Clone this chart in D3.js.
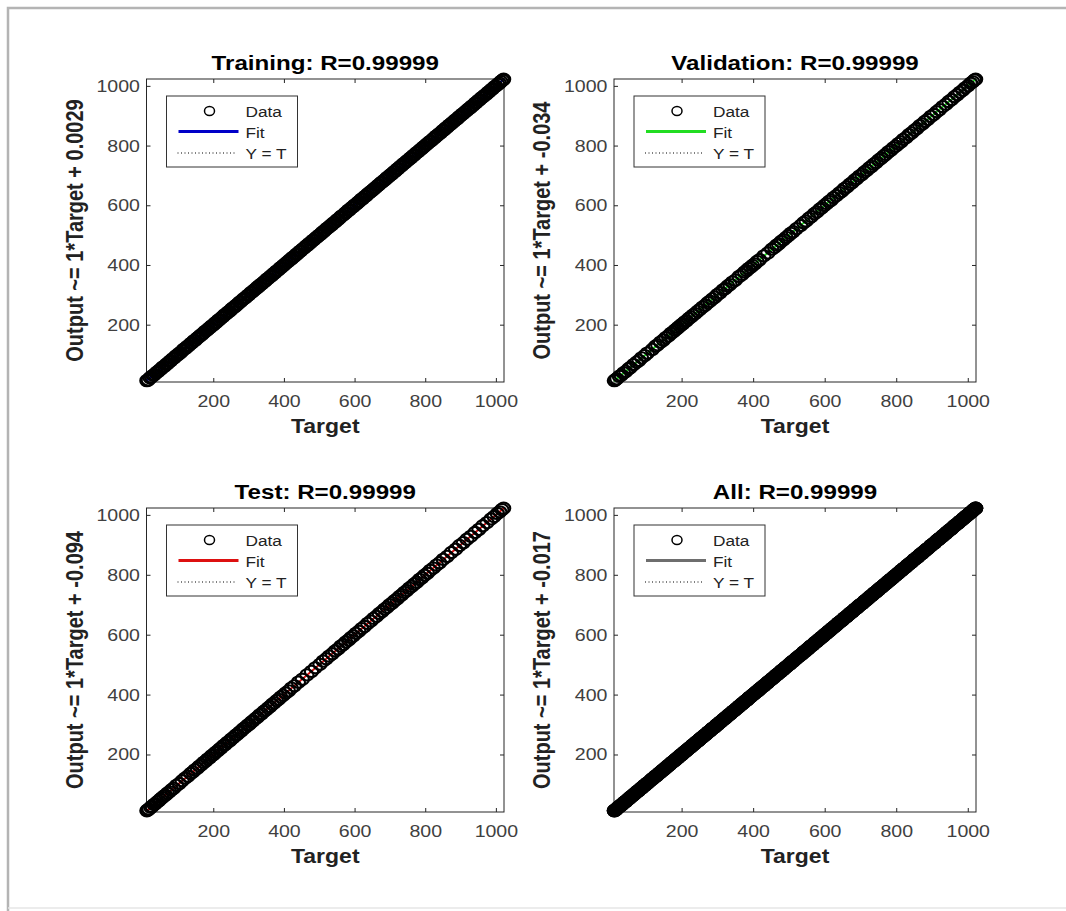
<!DOCTYPE html>
<html>
<head>
<meta charset="utf-8">
<title>Regression plots</title>
<script src="https://d3js.org/d3.v7.min.js"></script>
<style>
    body { margin: 0; background: #fff; }
    svg { display: block; font-family: "Liberation Sans", Arial, sans-serif; }
</style>
</head>
<body>
<svg width="1066" height="911"></svg>
<script>
    // panels, in reading order
    const panelNames = ["Training", "Validation", "Test", "All"];
    const rValues = ["0.99999", "0.99999", "0.99999", "0.99999"];
    const fitSlopes = [1, 1, 1, 1];
    const fitIntercepts = ["0.0029", "-0.034", "-0.094", "-0.017"];

    const xTicks = [200, 400, 600, 800, 1000];
    const yTicks = [200, 400, 600, 800, 1000];
    const xDomain = [11, 1023];
    const yDomain = [8, 1023];

    const trainTarget = [12, 16, 21, 25, 30, 34, 39, 44, 48, 53, 57, 62, 67, 71, 76, 80, 85, 90, 94, 99,
        103, 108, 113, 117, 122, 126, 131, 136, 140, 145, 149, 154, 159, 163, 168, 172, 177, 182, 186, 191,
        195, 200, 205, 209, 214, 218, 223, 228, 232, 237, 241, 246, 251, 255, 260, 264, 269, 274, 278, 283,
        287, 292, 297, 301, 306, 310, 315, 320, 324, 329, 333, 338, 343, 347, 352, 356, 361, 366, 370, 375,
        379, 384, 389, 393, 398, 402, 407, 412, 416, 421, 425, 430, 435, 439, 444, 448, 453, 458, 462, 467,
        471, 476, 481, 485, 490, 494, 499, 504, 508, 513, 517, 522, 527, 531, 536, 540, 545, 550, 554, 559,
        563, 568, 573, 577, 582, 586, 591, 596, 600, 605, 609, 614, 619, 623, 628, 632, 637, 642, 646, 651,
        655, 660, 665, 669, 674, 678, 683, 688, 692, 697, 701, 706, 711, 715, 720, 724, 729, 734, 738, 743,
        747, 752, 757, 761, 766, 770, 775, 780, 784, 789, 793, 798, 803, 807, 812, 816, 821, 826, 830, 835,
        839, 844, 849, 853, 858, 862, 867, 872, 876, 881, 885, 890, 895, 899, 904, 908, 913, 918, 922, 927,
        931, 936, 941, 945, 950, 954, 959, 964, 968, 973, 977, 982, 987, 991, 996, 1000, 1005, 1010, 1014, 1019, 1022];
    const trainOutput = [12.6, 15.1, 22.2, 24.7, 30.4, 32.9, 39.8, 43.5, 48.2, 52.4, 58.1, 61.2, 67.5, 70.3, 76.9, 79.4, 85.6, 89.2, 95.1, 98.6,
        103.7, 107.1, 113.4, 118.2, 121.5, 126.8, 130.3, 136.6, 139.4, 145.9, 148.3, 154.7, 158.6, 163.9, 167.2, 172.5, 177.8, 181.1, 186.4, 190.7,
        195.9, 199.3, 205.6, 208.4, 214.8, 217.2, 223.5, 227.6, 232.9, 236.4, 241.7, 245.2, 251.3, 256.1, 259.5, 264.6, 268.8, 274.9, 277.3, 283.4,
        287.8, 291.1, 297.6, 300.4, 306.9, 309.2, 315.5, 319.7, 324.8, 328.3, 333.9, 337.4, 343.2, 346.5, 352.8, 355.3, 361.6, 365.1, 370.7, 374.2,
        379.5, 383.2, 389.9, 392.6, 398.4, 401.8, 407.7, 411.3, 416.6, 420.4, 425.8, 429.1, 435.5, 438.3, 444.7, 447.6, 453.2, 457.4, 462.9, 466.5,
        471.6, 475.3, 481.8, 484.2, 490.5, 493.7, 499.4, 503.1, 508.8, 512.6, 517.3, 522.9, 526.4, 531.7, 535.2, 540.6, 544.3, 550.8, 553.5, 559.4,
        563.8, 567.2, 573.6, 576.5, 582.9, 585.4, 591.7, 595.1, 600.5, 604.3, 609.6, 613.4, 619.8, 622.3, 628.5, 631.2, 637.9, 641.6, 646.4, 650.2,
        655.7, 659.3, 665.5, 668.4, 674.8, 677.6, 683.3, 687.2, 692.9, 696.5, 701.4, 705.2, 711.8, 714.3, 720.6, 723.5, 729.7, 733.4, 738.8, 742.1,
        747.6, 751.3, 757.9, 760.2, 766.5, 769.4, 775.7, 779.2, 784.6, 788.3, 793.8, 797.4, 803.3, 806.6, 812.7, 815.1, 821.5, 825.4, 830.9, 834.2,
        839.5, 843.3, 849.8, 852.4, 858.6, 861.2, 867.7, 871.5, 876.3, 880.6, 885.9, 889.2, 895.4, 898.7, 904.8, 907.3, 913.6, 917.4, 922.7, 926.2,
        931.5, 935.3, 941.9, 944.4, 950.6, 953.2, 959.8, 963.5, 968.4, 972.1, 977.7, 981.4, 987.6, 990.3, 996.9, 999.5, 1005.4, 1009.2, 1014.6, 1018.8, 1022.3];

    const valTarget = [12, 15, 19, 26, 31, 38, 44, 52, 57, 66, 74, 81, 88, 97, 104, 118, 127, 133, 141, 149,
        156, 163, 170, 176, 181, 186, 190, 195, 199, 204, 209, 214, 220, 226, 231, 238, 244, 251, 258, 266,
        273, 279, 286, 293, 300, 308, 316, 322, 329, 335, 342, 350, 361, 369, 376, 382, 387, 393, 398, 404,
        411, 418, 430, 441, 452, 460, 466, 471, 478, 485, 492, 499, 505, 512, 521, 533, 541, 548, 556, 563,
        571, 578, 586, 592, 599, 606, 612, 618, 625, 633, 641, 648, 655, 662, 670, 677, 684, 690, 697, 704,
        711, 718, 725, 731, 737, 744, 751, 758, 765, 771, 778, 785, 792, 799, 806, 813, 820, 828, 836, 843,
        851, 858, 866, 873, 880, 888, 897, 905, 913, 921, 930, 939, 947, 955, 963, 971, 978, 986, 993, 1001,
        1008, 1014, 1019, 1022];
    const valOutput = [12.3, 15.8, 18.6, 26.9, 30.4, 38.7, 43.5, 52.6, 56.8, 66.4, 74.5, 80.3, 88.9, 96.6, 104.7, 117.2, 127.8, 132.5, 141.6, 148.3,
        156.7, 162.4, 170.9, 175.5, 181.6, 185.3, 190.8, 194.4, 199.7, 203.5, 209.6, 213.2, 220.8, 225.4, 231.9, 237.3, 244.5, 250.6, 258.7, 265.2,
        273.8, 278.5, 286.4, 292.2, 300.7, 307.4, 316.9, 321.3, 329.6, 334.5, 342.7, 349.2, 361.8, 368.4, 376.6, 381.3, 387.9, 392.5, 398.6, 403.4,
        411.7, 417.5, 430.6, 440.2, 452.9, 459.4, 466.5, 470.3, 478.8, 484.6, 492.4, 498.5, 505.9, 511.3, 521.6, 532.4, 541.8, 547.2, 556.7, 562.3,
        571.6, 577.3, 586.8, 591.4, 599.5, 605.6, 612.9, 617.2, 625.7, 632.4, 641.5, 647.3, 655.8, 661.6, 670.4, 676.2, 684.7, 689.5, 697.9, 703.4,
        711.6, 717.2, 725.5, 730.3, 737.8, 743.4, 751.7, 757.5, 765.3, 770.6, 778.9, 784.4, 792.6, 798.2, 806.5, 812.3, 820.8, 827.4, 836.7, 842.5,
        851.4, 857.3, 866.9, 872.2, 880.6, 887.5, 897.8, 904.3, 913.5, 920.4, 930.7, 938.3, 947.6, 954.2, 963.8, 970.5, 978.4, 985.3, 993.6, 1000.4,
        1008.7, 1013.5, 1019.3, 1022.4];

    const testTarget = [12, 14, 18, 23, 27, 32, 36, 41, 46, 50, 55, 60, 65, 70, 76, 82, 88, 96, 104, 112,
        120, 128, 136, 142, 148, 155, 161, 167, 173, 179, 184, 190, 195, 201, 206, 212, 218, 223, 229, 234,
        240, 246, 251, 257, 263, 268, 274, 280, 285, 291, 297, 302, 308, 313, 319, 325, 331, 337, 343, 349,
        355, 361, 367, 373, 379, 385, 391, 398, 405, 413, 421, 430, 441, 452, 465, 478, 489, 502, 511, 520,
        528, 537, 545, 553, 561, 568, 575, 583, 590, 597, 604, 612, 620, 628, 637, 646, 654, 662, 670, 678,
        685, 692, 699, 706, 713, 720, 727, 734, 741, 748, 755, 762, 769, 776, 784, 791, 798, 806, 814, 823,
        832, 841, 851, 862, 874, 886, 897, 908, 918, 929, 941, 952, 963, 975, 986, 995, 1004, 1011, 1017, 1022];
    const testOutput = [12.2, 14.7, 17.5, 23.6, 26.4, 32.8, 35.3, 41.7, 45.4, 50.6, 55.3, 60.8, 64.4, 70.7, 75.5, 82.6, 87.3, 96.9, 103.4, 112.5,
        120.8, 127.3, 136.6, 141.4, 148.9, 154.3, 161.5, 166.6, 173.7, 178.5, 184.6, 189.4, 195.8, 200.3, 206.5, 211.7, 218.6, 222.4, 229.9, 233.5,
        240.7, 245.3, 251.6, 256.4, 263.8, 267.5, 274.4, 279.3, 285.7, 290.6, 297.5, 301.4, 308.8, 312.3, 319.6, 324.5, 331.9, 336.2, 343.7, 348.4,
        355.6, 360.3, 367.8, 372.5, 379.4, 384.2, 391.7, 397.6, 405.5, 412.3, 421.8, 429.4, 441.6, 451.3, 465.7, 477.5, 489.4, 501.2, 511.9, 519.6,
        528.5, 536.3, 545.7, 552.4, 561.8, 567.3, 575.6, 582.5, 590.4, 596.2, 604.7, 611.4, 620.5, 627.3, 637.8, 645.5, 654.6, 661.2, 670.9, 677.4,
        685.6, 691.3, 699.8, 705.4, 713.5, 719.2, 727.7, 733.6, 741.4, 747.3, 755.8, 761.5, 769.6, 775.2, 784.7, 790.4, 798.5, 805.3, 814.8, 822.4,
        832.6, 840.3, 851.7, 861.4, 874.5, 885.2, 897.8, 907.3, 918.6, 928.5, 941.4, 951.6, 963.7, 974.3, 986.5, 994.4, 1004.8, 1010.3, 1017.6, 1022.2];

    // "All" is every sample from the three subsets together
    const allTarget = trainTarget.concat(valTarget, testTarget);
    const allOutput = trainOutput.concat(valOutput, testOutput);

    const panelData = [
        d3.zip(trainTarget, trainOutput),
        d3.zip(valTarget, valOutput),
        d3.zip(testTarget, testOutput),
        d3.zip(allTarget, allOutput)
    ];

    const fitColors = ["#0000c8", "#22dd22", "#dd1010", "#6e6e6e"];
    const STRETCH = 1.15; // the picture is a little wider than tall
    const cols = [[146.5, 504], [614, 976]];
    const rows = [[79, 382], [508, 812]];

    const svg = d3.select("svg");

    // outer figure frame
    svg.append("path")
        .attr("d", "M8,911V8H1066")
        .attr("fill", "none")
        .attr("stroke", "#b4b4b4")
        .attr("stroke-width", 2.5);
    svg.append("line")
        .attr("x1", 8).attr("x2", 1066).attr("y1", 908).attr("y2", 908)
        .attr("stroke", "#e6e6e6").attr("stroke-width", 1.5);

    function hText(sel, x, y) {
        return sel.attr("transform", `translate(${x},${y}) scale(${STRETCH},1)`);
    }

    panelNames.forEach((name, i) => {
        const [x0, x1] = cols[i % 2];
        const [y0, y1] = rows[Math.floor(i / 2)];
        const x = d3.scaleLinear().domain(xDomain).range([x0, x1]);
        const y = d3.scaleLinear().domain(yDomain).range([y1, y0]);
        const g = svg.append("g");

        g.append("rect")
            .attr("x", x0).attr("y", y0)
            .attr("width", x1 - x0).attr("height", y1 - y0)
            .attr("fill", "#fff")
            .attr("stroke", "#262626");

        const styleAxis = a => {
            a.select(".domain").remove();
            a.selectAll("line").attr("stroke", "#262626");
            a.selectAll("text")
                .attr("fill", "#404040")
                .attr("font-size", 17);
        };

        g.append("g")
            .attr("transform", `translate(0,${y1})`)
            .call(d3.axisBottom(x).tickValues(xTicks).tickFormat(d3.format("d"))
                .tickSizeInner(-4).tickSizeOuter(0).tickPadding(13))
            .call(styleAxis)
            .selectAll("text").attr("transform", `scale(${STRETCH},1)`);
        g.append("g")
            .attr("transform", `translate(0,${y0})`)
            .call(d3.axisTop(x).tickValues(xTicks).tickSizeInner(-4).tickSizeOuter(0).tickFormat(""))
            .call(styleAxis);
        g.append("g")
            .attr("transform", `translate(${x0},0)`)
            .call(d3.axisLeft(y).tickValues(yTicks).tickFormat(d3.format("d"))
                .tickSizeInner(-4).tickSizeOuter(0).tickPadding(5.7))
            .call(styleAxis)
            .selectAll("text").attr("transform", `scale(${STRETCH},1)`);
        g.append("g")
            .attr("transform", `translate(${x1},0)`)
            .call(d3.axisRight(y).tickValues(yTicks).tickSizeInner(-4).tickSizeOuter(0).tickFormat(""))
            .call(styleAxis);

        // Y = T reference
        g.append("line")
            .attr("x1", x(xDomain[0])).attr("y1", y(xDomain[0]))
            .attr("x2", x(xDomain[1])).attr("y2", y(xDomain[1]))
            .attr("stroke", "#000").attr("stroke-width", 1)
            .attr("stroke-dasharray", "1,2.5");

        // fit line
        const b = +fitIntercepts[i];
        g.append("line")
            .attr("x1", x(xDomain[0])).attr("y1", y(fitSlopes[i] * xDomain[0] + b))
            .attr("x2", x(xDomain[1])).attr("y2", y(fitSlopes[i] * xDomain[1] + b))
            .attr("stroke", fitColors[i]).attr("stroke-width", 2);

        // data markers
        g.append("g")
            .selectAll("ellipse")
            .data(panelData[i])
            .join("ellipse")
            .attr("cx", d => x(d[0]))
            .attr("cy", d => y(d[1]))
            .attr("rx", 6.6)
            .attr("ry", 5.6)
            .attr("fill", "none")
            .attr("stroke", "#000")
            .attr("stroke-width", 2.1);

        // title and labels
        hText(g.append("text"), (x0 + x1) / 2, y0 - 9)
            .attr("text-anchor", "middle")
            .attr("font-size", 21)
            .attr("font-weight", "bold")
            .attr("fill", "#000")
            .text(`${name}: R=${rValues[i]}`);
        hText(g.append("text"), (x0 + x1) / 2, y1 + 51)
            .attr("text-anchor", "middle")
            .attr("font-size", 20)
            .attr("font-weight", "bold")
            .attr("fill", "#222")
            .text("Target");
        g.append("text")
            .attr("transform", `translate(${x0 - 64},${(y0 + y1) / 2}) rotate(-90) scale(1,${STRETCH})`)
            .attr("text-anchor", "middle")
            .attr("font-size", 20)
            .attr("font-weight", "bold")
            .attr("fill", "#222")
            .text(`Output ~= ${fitSlopes[i]}*Target + ${fitIntercepts[i]}`);

        // legend
        const lg = g.append("g").attr("transform", `translate(${x0 + 20},${y0 + 17})`);
        lg.append("rect")
            .attr("width", 131).attr("height", 71)
            .attr("fill", "#fff").attr("stroke", "#333");
        lg.append("ellipse")
            .attr("cx", 43).attr("cy", 15).attr("rx", 5).attr("ry", 4.5)
            .attr("fill", "none").attr("stroke", "#000").attr("stroke-width", 1.5);
        lg.append("line")
            .attr("x1", 12).attr("x2", 72).attr("y1", 35.5).attr("y2", 35.5)
            .attr("stroke", fitColors[i]).attr("stroke-width", 3);
        lg.append("line")
            .attr("x1", 11).attr("x2", 70).attr("y1", 57).attr("y2", 57)
            .attr("stroke", "#000").attr("stroke-width", 1)
            .attr("stroke-dasharray", "1,2.5");
        ["Data", "Fit", "Y = T"].forEach((t, k) => {
            hText(lg.append("text"), 79, [20.5, 41.5, 63][k])
                .attr("font-size", 15)
                .attr("fill", "#222")
                .text(t);
        });
    });
</script>
</body>
</html>
